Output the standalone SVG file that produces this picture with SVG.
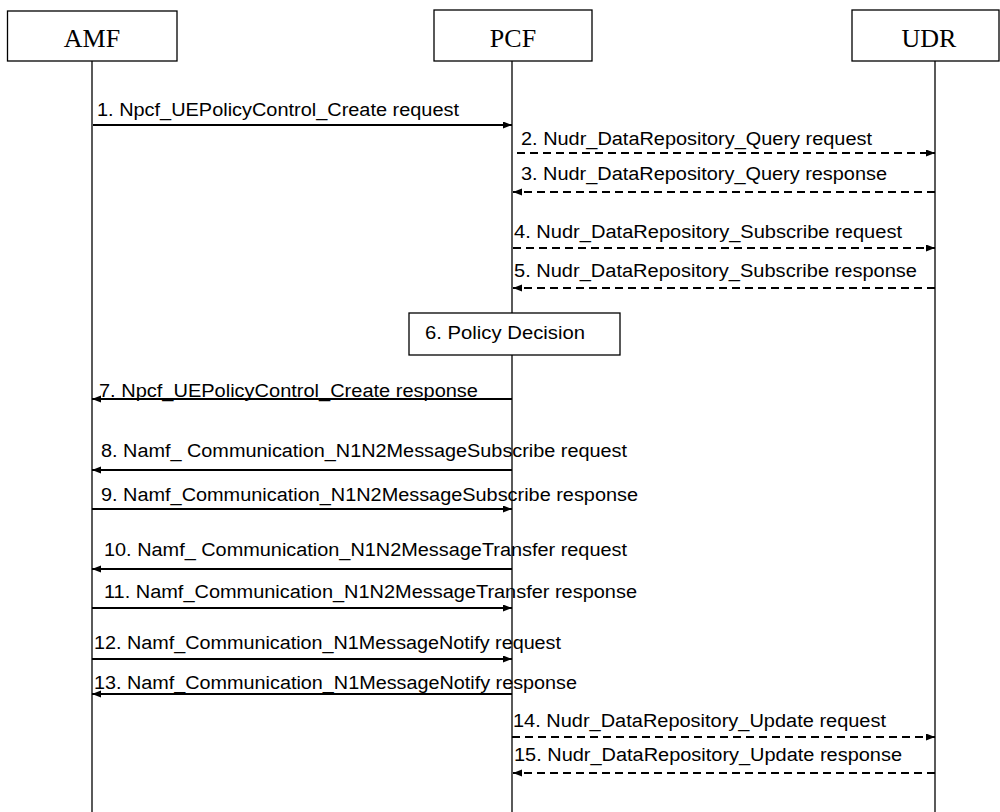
<svg xmlns="http://www.w3.org/2000/svg" width="1000" height="812" viewBox="0 0 1000 812">
<style>
.bg{fill:#fff}
.box{fill:#fff;stroke:#000;stroke-width:1.3}
.life{stroke:#000;stroke-width:1.3;fill:none}
.hdr{font-family:"Liberation Serif","Times New Roman",serif;font-size:26px;fill:#000;text-anchor:middle}
.lbl{font-family:"Liberation Sans",Arial,sans-serif;font-size:18px;fill:#000}
.msg{stroke:#000;stroke-width:1.8;fill:none;marker-end:url(#ah)}
.dash{stroke:#000;stroke-width:1.8;fill:none;stroke-dasharray:8 5;marker-end:url(#ah)}
</style>
<defs>
<marker id="ah" markerUnits="userSpaceOnUse" markerWidth="10" markerHeight="8" refX="9" refY="3.5" orient="auto">
<path d="M0,0 L9,3.5 L0,7 z" fill="#000"/>
</marker>
</defs>
<rect class="bg" x="0" y="0" width="1000" height="812"/>
<g id="lifelines">
<line class="life" x1="92" y1="61" x2="92" y2="812"/>
<line class="life" x1="512" y1="61" x2="512" y2="812"/>
<line class="life" x1="935" y1="61" x2="935" y2="812"/>
</g>
<g id="AMF">
<rect class="box" x="7.5" y="11" width="169.5" height="50"/>
<text class="hdr" x="92" y="47">AMF</text>
</g>
<g id="PCF">
<rect class="box" x="434" y="10" width="158" height="51"/>
<text class="hdr" x="513" y="47">PCF</text>
</g>
<g id="UDR">
<rect class="box" x="852" y="10" width="147" height="51"/>
<text class="hdr" x="929" y="47">UDR</text>
</g>
<g id="policy-decision">
<rect class="box" x="409" y="313" width="211" height="42"/>
<text class="lbl" x="425" y="339" textLength="160" lengthAdjust="spacingAndGlyphs">6. Policy Decision</text>
</g>
<g id="connectors">
<line class="msg" x1="93" y1="125" x2="512" y2="125"/>
<line class="dash" x1="517" y1="153" x2="935" y2="153"/>
<line class="dash" x1="935" y1="192" x2="513" y2="192"/>
<line class="dash" x1="513" y1="248" x2="935" y2="248"/>
<line class="dash" x1="935" y1="288" x2="513" y2="288"/>
<line class="msg" x1="512" y1="399" x2="92" y2="399"/>
<line class="msg" x1="512" y1="470" x2="92" y2="470"/>
<line class="msg" x1="92" y1="509" x2="512" y2="509"/>
<line class="msg" x1="512" y1="569" x2="92" y2="569"/>
<line class="msg" x1="92" y1="608" x2="512" y2="608"/>
<line class="msg" x1="92" y1="659" x2="512" y2="659"/>
<line class="msg" x1="512" y1="694" x2="92" y2="694"/>
<line class="dash" x1="512" y1="737" x2="935" y2="737"/>
<line class="dash" x1="935" y1="773" x2="513" y2="773"/>
</g>
<g id="labels">
<text class="lbl" x="97" y="116" textLength="362" lengthAdjust="spacingAndGlyphs">1. Npcf_UEPolicyControl_Create request</text>
<text class="lbl" x="521" y="145" textLength="351" lengthAdjust="spacingAndGlyphs">2. Nudr_DataRepository_Query request</text>
<text class="lbl" x="521" y="180" textLength="366" lengthAdjust="spacingAndGlyphs">3. Nudr_DataRepository_Query response</text>
<text class="lbl" x="514" y="238" textLength="388" lengthAdjust="spacingAndGlyphs">4. Nudr_DataRepository_Subscribe request</text>
<text class="lbl" x="514" y="277" textLength="403" lengthAdjust="spacingAndGlyphs">5. Nudr_DataRepository_Subscribe response</text>
<text class="lbl" x="99" y="397" textLength="379" lengthAdjust="spacingAndGlyphs">7. Npcf_UEPolicyControl_Create response</text>
<text class="lbl" x="101" y="457" textLength="526" lengthAdjust="spacingAndGlyphs">8. Namf_ Communication_N1N2MessageSubscribe request</text>
<text class="lbl" x="101" y="501" textLength="537" lengthAdjust="spacingAndGlyphs">9. Namf_Communication_N1N2MessageSubscribe response</text>
<text class="lbl" x="104" y="556" textLength="523" lengthAdjust="spacingAndGlyphs">10. Namf_ Communication_N1N2MessageTransfer request</text>
<text class="lbl" x="104" y="598" textLength="533" lengthAdjust="spacingAndGlyphs">11. Namf_Communication_N1N2MessageTransfer response</text>
<text class="lbl" x="94" y="649" textLength="467" lengthAdjust="spacingAndGlyphs">12. Namf_Communication_N1MessageNotify request</text>
<text class="lbl" x="94" y="689" textLength="483" lengthAdjust="spacingAndGlyphs">13. Namf_Communication_N1MessageNotify response</text>
<text class="lbl" x="513" y="727" textLength="373" lengthAdjust="spacingAndGlyphs">14. Nudr_DataRepository_Update request</text>
<text class="lbl" x="514" y="761" textLength="388" lengthAdjust="spacingAndGlyphs">15. Nudr_DataRepository_Update response</text>
</g>
</svg>
